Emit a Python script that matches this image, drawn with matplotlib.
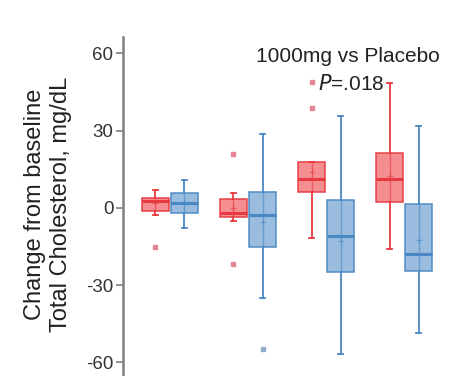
import matplotlib
matplotlib.use("Agg")
import matplotlib.pyplot as plt

plt.rcParams['font.family'] = ['Liberation Sans', 'DejaVu Sans']
plt.rcParams['axes.unicode_minus'] = False

# Data (mg/dL change from baseline), 4 timepoints; red = 1000mg, blue = placebo
groups = [1, 2, 3, 4]
red_whislo = [-2.7, -4.9, -11.8, -15.9]
red_q1 = [-1.2, -3.6, 6.1, 2.4]
red_med = [2.6, -2.0, 11.1, 11.3]
red_q3 = [3.8, 3.5, 18.0, 21.5]
red_whishi = [7.0, 5.9, 18.0, 48.4]
red_mean = [2.0, 0.0, 14.0, 12.5]
red_fliers = [[-15.0], [21.0, -21.9], [49.0, 39.0], []]

blue_whislo = [-7.9, -34.8, -56.7, -48.7]
blue_q1 = [-2.1, -15.0, -25.0, -24.5]
blue_med = [2.1, -2.8, -10.9, -17.9]
blue_q3 = [6.0, 6.1, 3.1, 1.6]
blue_whishi = [10.9, 28.7, 35.9, 32.0]
blue_mean = [2.0, -5.3, -12.7, -12.4]
blue_fliers = [[], [-54.9], [], []]

yticks = [-60, -30, 0, 30, 60]
ylabel = "Change from baseline\nTotal Cholesterol, mg/dL"
title_text = "1000mg vs Placebo"
p_text = r"$\it{P}$=.018"

RED_EDGE = "#e63a40"
RED_FILL = "#f4888b"
RED_FLIER = "#e57c8e"
BLUE_EDGE = "#4a88c3"
BLUE_FILL = "#94b9de"
BLUE_FLIER = "#8aa6c8"

W, H = 462, 376
fig = plt.figure(figsize=(W / 100, H / 100), dpi=100)
ymin, ymax = -80, 66.4
top_px, bot_px = 37, 414
left_px = 123
ax = fig.add_axes([left_px / W, 1 - bot_px / H, 1 - left_px / W, (bot_px - top_px) / H])

off = 0.186
bw = 0.35


def make_stats(lo, q1, med, q3, hi, mean, fl):
    return [dict(whislo=a, q1=b, med=c, q3=d, whishi=e, mean=m, fliers=f)
            for a, b, c, d, e, m, f in zip(lo, q1, med, q3, hi, mean, fl)]


for stats, dx, edge, fill, fc in [
    (make_stats(red_whislo, red_q1, red_med, red_q3, red_whishi, red_mean, red_fliers), -off, RED_EDGE, RED_FILL, RED_FLIER),
    (make_stats(blue_whislo, blue_q1, blue_med, blue_q3, blue_whishi, blue_mean, blue_fliers), off, BLUE_EDGE, BLUE_FILL, BLUE_FLIER),
]:
    pos = [g + dx for g in groups]
    ax.bxp(stats, positions=pos, widths=bw, patch_artist=True, showmeans=True,
           boxprops=dict(facecolor=fill, edgecolor=edge, linewidth=1.1, alpha=0.95),
           medianprops=dict(color=edge, linewidth=2.2),
           whiskerprops=dict(color=edge, linewidth=1.3),
           capprops=dict(color=edge, linewidth=1.3),
           capwidths=0.07,
           meanprops=dict(marker='+', markeredgecolor=edge, markersize=4, markeredgewidth=0.8, alpha=0.6),
           flierprops=dict(marker='s', markersize=3, markerfacecolor=fc, markeredgecolor=fc, alpha=0.9))
    # whisker line continuing through the box
    ax.vlines(pos, [s['q1'] for s in stats], [s['q3'] for s in stats], colors=edge, linewidth=1.0, alpha=0.6, zorder=3)

ax.set_ylim(ymin, ymax)
ax.set_xlim(0.4, 4.74)
ax.set_yticks(yticks)
ax.set_yticklabels([str(v) for v in yticks])
ax.set_xticks([])
for s in ['top', 'right', 'bottom']:
    ax.spines[s].set_visible(False)
ax.spines['left'].set_color('#7f7f7f')
ax.spines['left'].set_linewidth(1.8)
ax.tick_params(axis='y', length=5, width=1.2, color='#7f7f7f', labelsize=13.5, labelcolor='#333333', pad=2)

ax.set_ylabel(ylabel, fontsize=17, color='#222222', ha='center', va='center', linespacing=1.2)
ax.yaxis.set_label_coords((48 - left_px) / (W - left_px), (bot_px - 204) / (bot_px - top_px))

ax.text(3.285, 56.7, title_text, ha='center', va='baseline', fontsize=15, color='#222222')
ax.text(3.32, 46.0, p_text, ha='center', va='baseline', fontsize=15, color='#222222')

fig.savefig("out.png", dpi=100)
